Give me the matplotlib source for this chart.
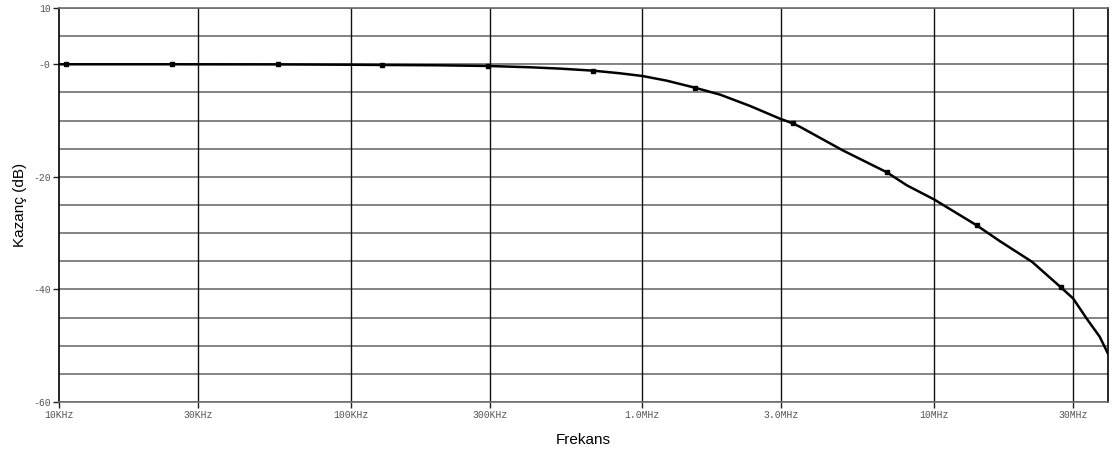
import numpy as np
import matplotlib.pyplot as plt
from matplotlib.ticker import FixedLocator, NullLocator

# frequency response (Hz, dB)
freq = [1.0e4, 1.057e4, 2.44e4, 5.63e4, 1.0e5, 1.28e5, 2.0e5, 2.96e5, 4.12e5,
        5.22e5, 6.77e5, 8.38e5, 1.0e6, 1.21e6, 1.51e6, 1.85e6, 2.34e6,
        2.96e6, 3.28e6, 3.47e6, 4.87e6, 6.90e6, 8.07e6, 1.0e7, 1.40e7,
        1.68e7, 2.17e7, 2.72e7, 3.0e7, 3.34e7, 3.70e7, 3.95e7]
gain = [0.0, 0.0, 0.0, -0.02, -0.08, -0.12, -0.18, -0.3, -0.53,
        -0.77, -1.13, -1.6, -2.08, -2.9, -4.14, -5.4, -7.4,
        -9.65, -10.5, -11.1, -15.3, -19.2, -21.5, -24.0, -28.6,
        -31.4, -35.1, -39.6, -41.6, -45.2, -48.4, -51.4]
marker_idx = [1, 2, 3, 5, 7, 10, 14, 18, 21, 24, 27]

xticks = [1e4, 3e4, 1e5, 3e5, 1e6, 3e6, 1e7, 3e7]
xlabels = ['10KHz', '30KHz', '100KHz', '300KHz', '1.0MHz', '3.0MHz', '10MHz', '30MHz']
yticks = [10, 0, -20, -40, -60]
ylabels = ['10', '-0', '-20', '-40', '-60']
ygrid = list(range(10, -61, -5))

fig = plt.figure(figsize=(11.15, 4.54), dpi=100)
ax = fig.add_axes([0.0529, 0.1145, 0.9408, 0.8679])

ax.set_xscale('log')
ax.set_xlim(1e4, 3.95e7)
ax.set_ylim(-60, 10)

for y in ygrid:
    ax.axhline(y, color='#6e6e6e', lw=1.2, zorder=1)
for x in xticks[1:]:
    ax.axvline(x, color='#111111', lw=1.0, zorder=1)

ax.plot(freq, gain, color='black', lw=1.8, marker='s', markersize=3.5,
        markevery=marker_idx, zorder=3)

ax.xaxis.set_major_locator(FixedLocator(xticks))
ax.xaxis.set_minor_locator(NullLocator())
ax.set_xticklabels(xlabels)
ax.set_yticks(yticks)
ax.set_yticklabels(ylabels)
ax.tick_params(axis='both', direction='out', length=4, width=1, color='#222222',
               labelsize=7, labelcolor='#555555', pad=2)
for lab in ax.get_xticklabels() + ax.get_yticklabels():
    lab.set_family(['Liberation Mono', 'DejaVu Sans Mono'])

ax.spines['left'].set_color('black')
ax.spines['right'].set_color('black')
ax.spines['top'].set_color('#6e6e6e')
ax.spines['bottom'].set_color('#6e6e6e')
for s in ax.spines.values():
    s.set_linewidth(1.2)

ax.set_xlabel('Frekans', fontsize=11, family=['Liberation Sans', 'DejaVu Sans'], labelpad=9)
ax.set_ylabel('Kazanç (dB)', fontsize=11, family=['Liberation Sans', 'DejaVu Sans'], labelpad=4)

fig.savefig('out.png', dpi=100)
